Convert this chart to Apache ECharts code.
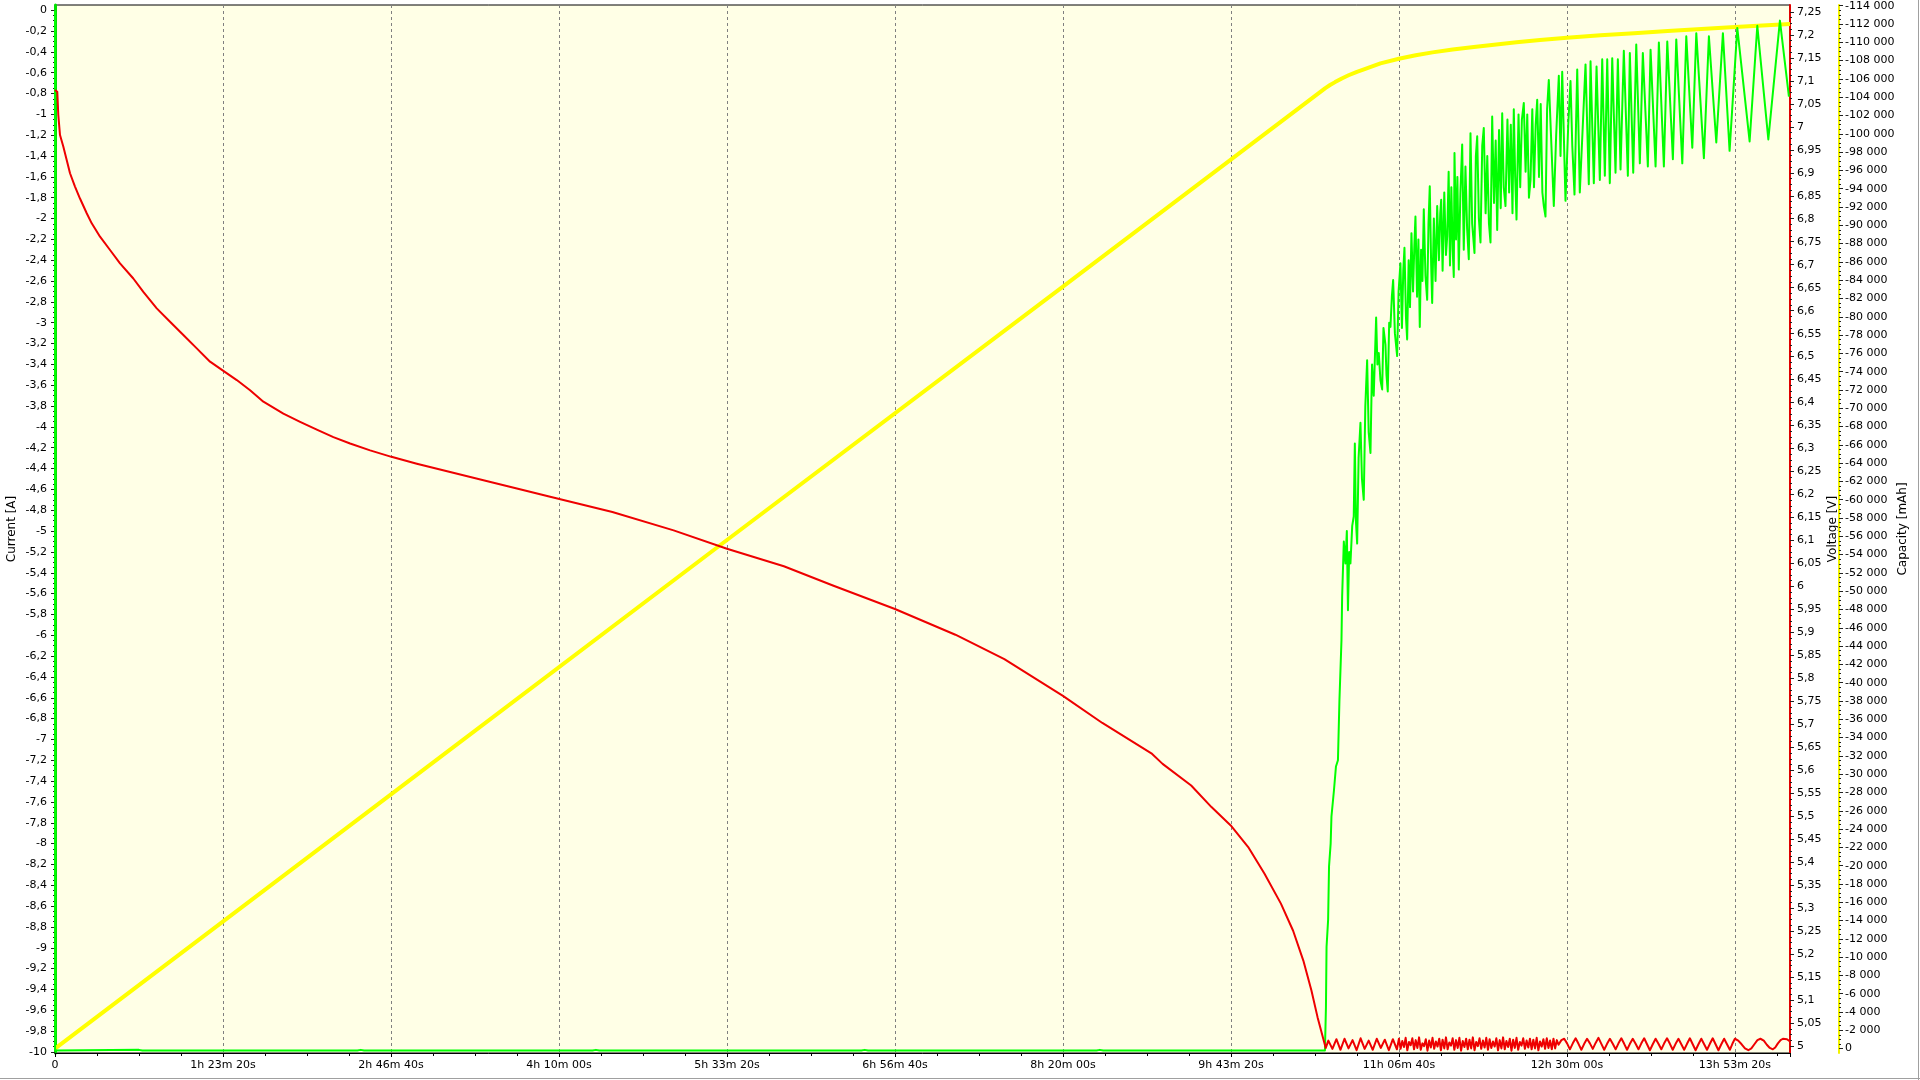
<!DOCTYPE html>
<html><head><meta charset="utf-8">
<script src="https://cdn.jsdelivr.net/npm/echarts@6/dist/echarts.min.js"></script>
<style>html,body{margin:0;padding:0;background:#fff}#c{width:1920px;height:1080px}</style>
</head><body><div id="c"></div>
<script>
// ---------- tick labels ----------
const timeTickLabels = ['0','1h 23m 20s','2h 46m 40s','4h 10m 00s','5h 33m 20s','6h 56m 40s','8h 20m 00s','9h 43m 20s','11h 06m 40s','12h 30m 00s','13h 53m 20s'];
const currentTicks = [0,-0.2,-0.4,-0.6,-0.8,-1,-1.2,-1.4,-1.6,-1.8,-2,-2.2,-2.4,-2.6,-2.8,-3,-3.2,-3.4,-3.6,-3.8,-4,-4.2,-4.4,-4.6,-4.8,-5,-5.2,-5.4,-5.6,-5.8,-6,-6.2,-6.4,-6.6,-6.8,-7,-7.2,-7.4,-7.6,-7.8,-8,-8.2,-8.4,-8.6,-8.8,-9,-9.2,-9.4,-9.6,-9.8,-10];
const voltageTicks = [7.25,7.2,7.15,7.1,7.05,7,6.95,6.9,6.85,6.8,6.75,6.7,6.65,6.6,6.55,6.5,6.45,6.4,6.35,6.3,6.25,6.2,6.15,6.1,6.05,6,5.95,5.9,5.85,5.8,5.75,5.7,5.65,5.6,5.55,5.5,5.45,5.4,5.35,5.3,5.25,5.2,5.15,5.1,5.05,5];
const capacityTicks = [-114000,-112000,-110000,-108000,-106000,-104000,-102000,-100000,-98000,-96000,-94000,-92000,-90000,-88000,-86000,-84000,-82000,-80000,-78000,-76000,-74000,-72000,-70000,-68000,-66000,-64000,-62000,-60000,-58000,-56000,-54000,-52000,-50000,-48000,-46000,-44000,-42000,-40000,-38000,-36000,-34000,-32000,-30000,-28000,-26000,-24000,-22000,-20000,-18000,-16000,-14000,-12000,-10000,-8000,-6000,-4000,-2000,0];

// ---------- series values [time s, value] ----------
const capacitySeries = [[0,0],[10000,-27800],[20000,-55600],[30000,-83300],[37810,-105000],[37950,-105330],[38100,-105650],[38300,-106050],[38500,-106400],[38750,-106780],[39000,-107100],[39450,-107700],[40000,-108200],[40500,-108580],[41000,-108900],[41600,-109220],[42230,-109500],[43500,-110000],[44200,-110260],[45000,-110500],[46000,-110770],[47000,-111000],[48000,-111240],[49000,-111450],[50000,-111670],[51640,-112000]];

const currentBase = [[0,0],[5,-9.985],[2500,-9.98],[2600,-9.985],[9000,-9.985],[9100,-9.98],[9200,-9.985],[16000,-9.985],[16100,-9.98],[16200,-9.985],[24000,-9.985],[24100,-9.98],[24200,-9.985],[31000,-9.985],[31100,-9.98],[31200,-9.985],[37798,-9.985]];
const currentRise = [[37828,-9.57],[37846,-8.99],[37893,-8.73],[37920,-8.22],[37968,-8.00],[37992,-7.74],[38066,-7.49],[38126,-7.26],[38185,-7.20],[38230,-6.62],[38290,-6.05]];
const currentRecovery = [[38310,-5.63],[38360,-5.10],[38408,-5.31],[38450,-5.00],[38483,-5.76],[38520,-5.20],[38557,-5.31],[38610,-4.95],[38655,-4.86],[38688,-4.16],[38720,-4.90],[38757,-5.12],[38800,-4.30],[38855,-3.96],[38900,-4.50],[38953,-4.70],[39000,-3.80],[39054,-3.36],[39100,-4.05],[39153,-4.25],[39200,-3.40],[39250,-3.70],[39322,-2.95],[39360,-3.40],[39400,-3.29],[39450,-3.55],[39501,-3.64],[39540,-3.05],[39599,-3.21],[39630,-3.50],[39668,-3.66],[39710,-3.00],[39748,-3.04],[39790,-2.75],[39828,-2.59],[39880,-3.10],[39947,-3.32],[39990,-2.70]];
const currentDense = [[40045,-2.43],[40090,-3.05],[40130,-2.50],[40165,-2.28],[40210,-2.95],[40245,-3.16],[40290,-2.40],[40330,-2.85],[40373,-2.14],[40420,-2.70],[40460,-2.25],[40492,-1.98],[40540,-2.75],[40580,-2.20],[40621,-3.04],[40660,-2.30],[40700,-2.60],[40740,-1.91],[40790,-2.55],[40841,-2.78],[40880,-2.05],[40918,-1.69],[40960,-2.45],[40990,-2.81],[41040,-2.00],[41090,-2.60],[41139,-1.88],[41190,-2.40],[41230,-1.95],[41258,-1.82],[41300,-2.50],[41350,-1.75],[41400,-2.35],[41437,-2.17],[41480,-1.55],[41520,-2.45],[41560,-1.70],[41600,-2.30],[41633,-2.56],[41654,-1.37],[41700,-2.20],[41740,-1.60],[41782,-2.49],[41830,-1.75],[41883,-1.29],[41930,-2.30],[41980,-1.50],[42030,-2.10],[42080,-2.39],[42130,-1.18],[42180,-2.05],[42249,-2.33],[42290,-1.40],[42330,-1.21],[42380,-2.00],[42428,-2.23],[42480,-1.30],[42526,-1.13],[42580,-1.95],[42630,-1.40],[42680,-2.05],[42726,-2.23],[42776,-1.02],[42830,-1.85],[42880,-1.25],[42925,-2.11],[42980,-1.15],[43030,-1.90],[43074,-0.99],[43120,-1.70],[43172,-1.88],[43230,-1.05],[43280,-1.75],[43330,-1.10],[43380,-1.95],[43419,-0.95],[43460,-1.60],[43500,-2.01],[43560,-1.00],[43610,-1.70],[43660,-1.05],[43717,-0.89],[43770,-1.55],[43820,-1.00],[43870,-1.80],[43917,-1.63],[43970,-0.95],[44020,-1.70],[44070,-1.10],[44116,-0.86],[44170,-1.60],[44220,-0.90],[44270,-1.75],[44313,-1.88],[44363,-1.98],[44410,-0.95],[44461,-0.67]];
const currentOscillation = [[44610,-1.88],[44680,-1.20],[44759,-0.63],[44810,-1.40],[44860,-0.59],[44958,-1.83],[45040,-1.10],[45107,-0.68],[45160,-1.30],[45226,-1.77],[45307,-0.57],[45384,-1.75],[45554,-0.52],[45652,-1.67],[45703,-0.49],[45801,-1.66],[45882,-0.54],[45980,-1.63],[46051,-0.47],[46129,-1.59],[46200,-0.47],[46277,-1.66],[46349,-0.46],[46447,-1.56],[46516,-0.47],[46596,-1.53],[46694,-0.39],[46814,-1.59],[46873,-0.41],[46974,-1.56],[47064,-0.33],[47171,-1.47],[47260,-0.41],[47409,-1.50],[47490,-0.38],[47639,-1.50],[47737,-0.31],[47886,-1.50],[47987,-0.30],[48154,-1.43],[48255,-0.28],[48434,-1.47],[48553,-0.25],[48732,-1.32],[48851,-0.22],[49077,-1.42],[49226,-0.25],[49446,-1.27],[49643,-0.22],[49842,-1.35],[50071,-0.17],[50438,-1.26],[50667,-0.15],[50995,-1.24],[51340,-0.10],[51608,-0.83]];

const voltageDischarge = [[0,7.08],[68,7.076],[98,7.026],[149,6.982],[247,6.957],[348,6.928],[447,6.899],[595,6.870],[744,6.844],[944,6.812],[1093,6.790],[1340,6.761],[1638,6.732],[1935,6.703],[2331,6.670],[2629,6.641],[3028,6.605],[3424,6.576],[3820,6.547],[4219,6.518],[4615,6.489],[5011,6.469],[5410,6.449],[5806,6.427],[6202,6.402],[6797,6.376],[7295,6.358],[7792,6.341],[8286,6.325],[8783,6.311],[9379,6.296],[10013,6.282],[10769,6.267],[11761,6.249],[12752,6.231],[13747,6.213],[14738,6.195],[16590,6.162],[18413,6.122],[20000,6.082],[21694,6.044],[23153,6.002],[25000,5.951],[26799,5.895],[28256,5.842],[30000,5.762],[31173,5.703],[32632,5.637],[32966,5.614],[33817,5.567],[34421,5.520],[34994,5.480],[35514,5.433],[36000,5.375],[36488,5.310],[36851,5.251],[37155,5.186],[37396,5.121],[37578,5.063],[37762,5.012],[37822,4.996]];
const voltageRestA = [[37900,5.012],[38020,4.994],[38140,5.015],[38260,4.992],[38380,5.016],[38500,4.995],[38620,5.013],[38740,4.991],[38860,5.017],[38980,4.994],[39100,5.012],[39220,4.992],[39340,5.016],[39460,4.996],[39580,5.014],[39700,4.991],[39820,5.015],[39940,4.993]];
const voltageRestB = [[40000,5.016],[40050,4.994],[40100,5.011],[40150,4.998],[40200,5.018],[40250,4.991],[40300,5.009],[40350,5.002],[40400,5.017],[40450,4.993],[40500,5.013],[40550,4.996],[40600,5.019],[40650,4.992],[40700,5.006],[40750,5.000],[40800,5.015],[40850,4.990],[40900,5.012],[40950,4.997],[41000,5.018],[41050,4.994],[41100,5.010],[41150,4.999],[41200,5.016],[41250,4.991],[41300,5.014],[41350,4.995],[41400,5.019],[41450,4.993],[41500,5.008],[41550,5.001],[41600,5.017],[41650,4.992],[41700,5.013],[41750,4.996],[41800,5.018],[41850,4.990],[41900,5.011],[41950,4.998],[42000,5.016],[42050,4.993],[42100,5.014],[42150,4.995],[42200,5.019],[42250,4.991],[42300,5.009],[42350,5.000],[42400,5.017],[42450,4.994],[42500,5.012],[42550,4.997],[42600,5.018],[42650,4.992],[42700,5.015],[42750,4.996],[42800,5.010],[42850,4.999],[42900,5.017],[42950,4.991],[43000,5.013],[43050,4.995],[43100,5.019],[43150,4.993],[43200,5.011],[43250,4.998],[43300,5.016],[43350,4.990],[43400,5.014],[43450,4.996],[43500,5.018],[43550,4.992],[43600,5.009],[43650,5.001],[43700,5.017],[43750,4.994],[43800,5.012],[43850,4.997],[43900,5.016],[43950,4.993],[44000,5.014],[44050,4.995],[44100,5.018],[44150,4.991],[44200,5.010],[44250,4.999],[44300,5.015],[44350,4.994],[44400,5.017],[44450,4.996],[44500,5.012],[44550,4.993],[44600,5.016],[44650,4.995],[44700,5.013]];
const voltageRestC = [[44750,5.003],[44835,5.013],[44920,5.016],[45005,5.006],[45090,4.993],[45175,5.006],[45260,5.017],[45345,5.005],[45430,4.992],[45515,5.005],[45600,5.016],[45685,5.006],[45770,4.994],[45855,5.007],[45940,5.018],[46025,5.005],[46110,4.992],[46195,5.005],[46280,5.016],[46365,5.005],[46450,4.993],[46535,5.006],[46620,5.017],[46705,5.005],[46790,4.992],[46875,5.005],[46960,5.016],[47045,5.005],[47130,4.993],[47215,5.006],[47300,5.017],[47385,5.004],[47470,4.991],[47555,5.004],[47640,5.016],[47725,5.005],[47810,4.993],[47895,5.006],[47980,5.017],[48065,5.005],[48150,4.992],[48235,5.005],[48320,5.016],[48405,5.004],[48490,4.992],[48575,5.005],[48660,5.017],[48745,5.004],[48830,4.991],[48915,5.004],[49000,5.016],[49085,5.004],[49170,4.992],[49255,5.005],[49340,5.017],[49425,5.004],[49510,4.991],[49595,5.004],[49680,5.016],[49765,5.004],[49850,4.992],[49925,5.005],[50000,5.016],[50100,5.012],[50200,5.004],[50300,4.995],[50400,4.991],[50490,4.995],[50580,5.004],[50670,5.013],[50760,5.016],[50860,5.012],[50950,5.003],[51040,4.996],[51130,4.993],[51200,4.997],[51280,5.006],[51360,5.013],[51430,5.016],[51550,5.015],[51640,5.010]];

// ---------- helpers ----------
const FONT = 'DejaVu Sans';
function decFmt(v){ const r = Math.round(v*1000)/1000; return String(r === 0 ? 0 : r).replace('.', ','); }
function capFmt(v){ const r = Math.round(v); const s = Math.abs(r).toString().replace(/\B(?=(\d{3})+(?!\d))/g, ' '); return (r < 0 ? '-' : '') + s; }
function minorOf(ticks, n){ const out=[]; for(let i=1;i<ticks.length;i++){ const a=ticks[i-1], b=ticks[i]; for(let k=1;k<n;k++){ out.push(a+(b-a)*k/n); } } return out; }

const currentMinor = minorOf(currentTicks, 4);
const voltageMinor = minorOf(voltageTicks, 4);
const capacityMinor = minorOf(capacityTicks, 4);

const labelStyle = {fontFamily: FONT, fontSize: 11, color: '#000'};
const nameStyle = {fontFamily: FONT, fontSize: 12, color: '#000'};

function mainY(o){
  return Object.assign({
    type: 'value', scale: false, splitLine: {show: false},
    nameLocation: 'middle', nameRotate: 90, nameTextStyle: nameStyle, nameMoveOverlap: false
  }, o);
}
function minorY(o, values){
  return Object.assign({
    type: 'value', splitLine: {show: false},
    axisLine: {show: false}, axisLabel: {show: false},
    axisTick: {show: true, customValues: values, length: 2, lineStyle: {color: '#222', width: 1}}
  }, o);
}

const chart = echarts.init(document.getElementById('c'), null, {renderer: 'canvas'});
chart.setOption({
  animation: false,
  backgroundColor: '#ffffff',
  grid: {left: 55, right: 130, top: 5, bottom: 27, containLabel: false, outerBoundsMode: 'none',
         show: true, backgroundColor: '#FFFFE6', borderColor: '#000', borderWidth: 1},
  xAxis: {
    type: 'value', min: 0, max: 51640, interval: 5000,
    axisLine: {onZero: false, lineStyle: {color: '#000', width: 1}},
    axisTick: {show: true, length: 4, lineStyle: {color: '#000'}},
    minorTick: {show: true, splitNumber: 4, length: 3, lineStyle: {color: '#000'}},
    splitLine: {show: true, lineStyle: {color: '#808080', width: 1, type: [3, 3]}},
    axisLabel: Object.assign({margin: 7, formatter: function(v){
      const i = Math.round(v/5000);
      return (Math.abs(v - i*5000) < 1 && i < timeTickLabels.length) ? timeTickLabels[i] : '';
    }}, labelStyle)
  },
  yAxis: [
    mainY({position: 'left', min: -10.01, max: 0.05, name: 'Current [A]', nameGap: 37,
      axisLine: {show: true, onZero: false, lineStyle: {color: '#00E000', width: 3}},
      axisTick: {show: true, customValues: currentTicks, length: 4, lineStyle: {color: '#222'}},
      axisLabel: Object.assign({customValues: currentTicks, margin: 8, formatter: decFmt}, labelStyle)}),
    minorY({position: 'left', min: -10.01, max: 0.05}, currentMinor),
    mainY({position: 'right', min: 4.985, max: 7.265, name: 'Voltage [V]', nameGap: 37,
      axisLine: {show: true, onZero: false, lineStyle: {color: '#E00000', width: 2}},
      axisTick: {show: true, customValues: voltageTicks, length: 4, lineStyle: {color: '#222'}},
      axisLabel: Object.assign({customValues: voltageTicks, margin: 7, formatter: decFmt}, labelStyle)}),
    minorY({position: 'right', min: 4.985, max: 7.265}, voltageMinor),
    mainY({position: 'right', offset: 49, inverse: true, min: -114080, max: 480, name: 'Capacity [mAh]', nameGap: 58,
      axisLine: {show: true, onZero: false, lineStyle: {color: '#F2F200', width: 2}},
      axisTick: {show: true, customValues: capacityTicks, length: 4, lineStyle: {color: '#222'}},
      axisLabel: Object.assign({customValues: capacityTicks, margin: 6, formatter: capFmt}, labelStyle)}),
    minorY({position: 'right', offset: 49, inverse: true, min: -114080, max: 480}, capacityMinor)
  ],
  series: [
    {name: 'Capacity', type: 'line', yAxisIndex: 4, data: capacitySeries, showSymbol: false, smooth: false,
     lineStyle: {color: '#FFFF00', width: 4, join: 'round'}, itemStyle: {color: '#FFFF00'}, z: 2},
    {name: 'Current', type: 'line', yAxisIndex: 0,
     data: currentBase.concat(currentRise, currentRecovery, currentDense, currentOscillation),
     showSymbol: false, smooth: false,
     lineStyle: {color: '#00FF00', width: 2, join: 'round'}, itemStyle: {color: '#00FF00'}, z: 3},
    {name: 'Voltage', type: 'line', yAxisIndex: 2,
     data: voltageDischarge.concat(voltageRestA, voltageRestB, voltageRestC),
     showSymbol: false, smooth: false,
     lineStyle: {color: '#EE0000', width: 2, join: 'round'}, itemStyle: {color: '#EE0000'}, z: 4}
  ],
  graphic: [
    {type: 'line', shape: {x1: 0, y1: 1078.5, x2: 1920, y2: 1078.5}, style: {stroke: '#A0A0A0', lineWidth: 1}, silent: true},
    {type: 'line', shape: {x1: 1918.5, y1: 0, x2: 1918.5, y2: 1080}, style: {stroke: '#A0A0A0', lineWidth: 1}, silent: true}
  ]
});
</script>
</body></html>
